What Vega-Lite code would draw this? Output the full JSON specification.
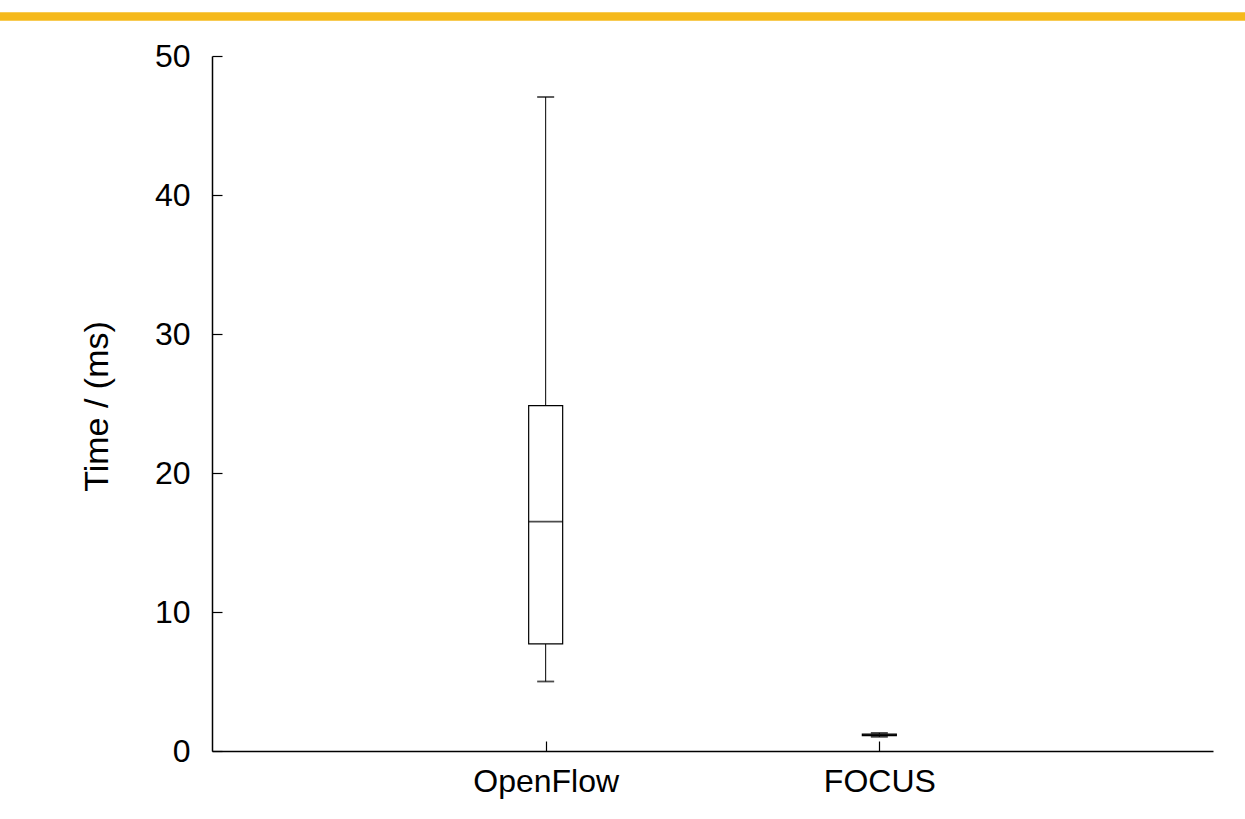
{
  "$schema": "https://vega.github.io/schema/vega-lite/v6.json",
  "width": 1001,
  "height": 695,
  "autosize": {"type": "none"},
  "padding": {"left": 212, "top": 56, "right": 32, "bottom": 68},
  "background": "white",
  "config": {
    "view": {"stroke": null},
    "font": "Liberation Sans",
    "axis": {
      "grid": false,
      "domainColor": "black",
      "domainWidth": 1.5,
      "tickColor": "black",
      "tickWidth": 1.2,
      "labelColor": "black",
      "titleColor": "black",
      "labelFont": "Liberation Sans",
      "titleFont": "Liberation Sans",
      "labelFontSize": 32,
      "titleFontSize": 34,
      "titleFontWeight": "normal"
    }
  },
  "data": {
    "values": [
      {"system": "OpenFlow", "min": 5.0, "q1": 7.7, "median": 16.5, "q3": 24.85, "max": 47.05},
      {"system": "FOCUS", "min": 1.02, "q1": 1.1, "median": 1.15, "q3": 1.22, "max": 1.3}
    ]
  },
  "encoding": {
    "x": {
      "field": "system",
      "type": "nominal",
      "sort": ["OpenFlow", "FOCUS"],
      "scale": {"type": "point", "padding": 1},
      "axis": {
        "title": null,
        "labelAngle": 0,
        "tickSize": -10,
        "labelPadding": 25,
        "labelBaseline": "top"
      }
    }
  },
  "layer": [
    {
      "mark": {"type": "rule", "stroke": "#F5B91C", "strokeWidth": 8, "clip": false},
      "encoding": {
        "x": {"value": -212},
        "x2": {"value": 1033},
        "y": {"datum": 52.85, "type": "quantitative", "scale": {"domain": [0, 50]}}
      }
    },
    {
      "mark": {"type": "rule", "stroke": "black", "strokeWidth": 1},
      "encoding": {
        "y": {
          "field": "min",
          "type": "quantitative",
          "scale": {"domain": [0, 50], "nice": false, "zero": true},
          "axis": {
            "title": "Time / (ms)",
            "values": [0, 10, 20, 30, 40, 50],
            "tickSize": -10,
            "labelPadding": 32,
            "titleAngle": -90,
            "titleX": -115,
            "titleY": 350,
            "titleAlign": "center",
            "titleBaseline": "middle"
          }
        },
        "y2": {"field": "max"}
      }
    },
    {
      "mark": {"type": "bar", "fill": "white", "stroke": "black", "strokeWidth": 1.2, "size": 34},
      "encoding": {
        "y": {"field": "q1", "type": "quantitative"},
        "y2": {"field": "q3"}
      }
    },
    {
      "mark": {"type": "tick", "color": "black", "size": 34, "thickness": 1.8},
      "encoding": {"y": {"field": "median", "type": "quantitative"}}
    },
    {
      "mark": {"type": "tick", "color": "black", "size": 17, "thickness": 1.8},
      "encoding": {"y": {"field": "min", "type": "quantitative"}}
    },
    {
      "mark": {"type": "tick", "color": "black", "size": 17, "thickness": 1.8},
      "encoding": {"y": {"field": "max", "type": "quantitative"}}
    }
  ]
}
